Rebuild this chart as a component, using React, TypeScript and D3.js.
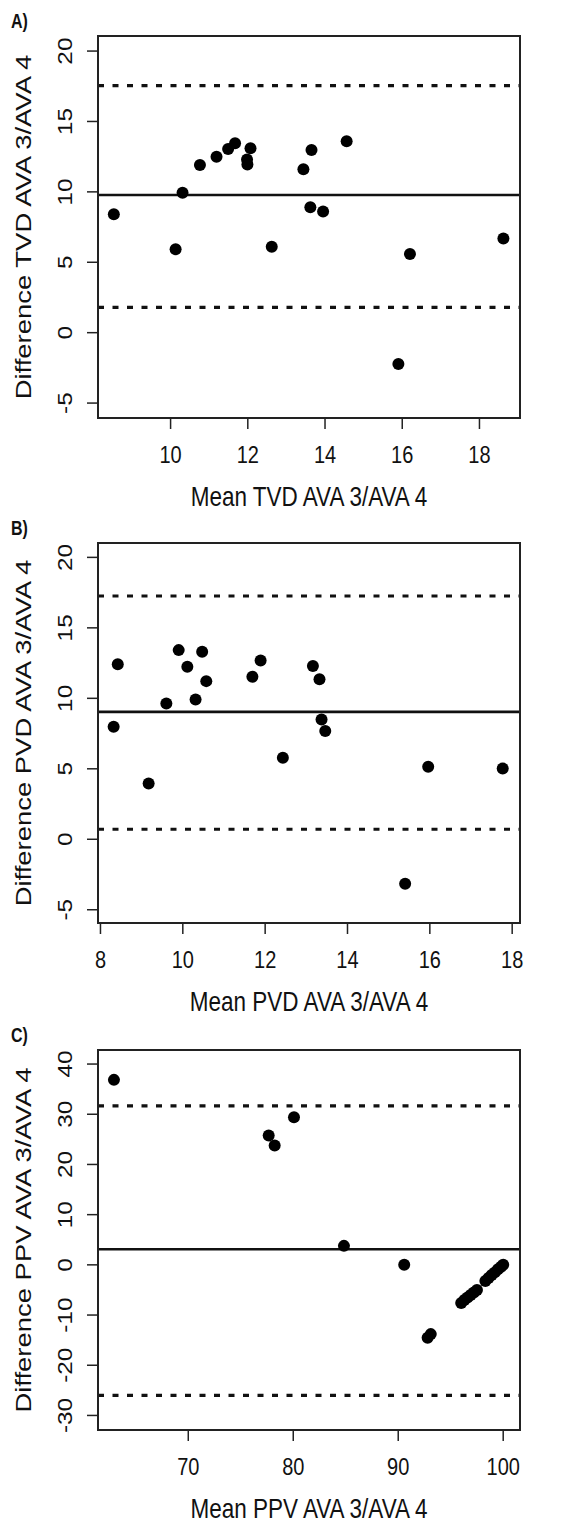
import React from 'react'
import * as d3 from 'd3'

// Bland-Altman panels: mean (x) vs difference (y)
const tvdMean = [8.53, 10.13, 10.31, 10.76, 11.19, 11.49, 11.67, 12.07, 11.98, 11.99, 12.62, 13.44, 13.65, 13.62, 13.95, 14.56, 16.2, 18.62, 15.9]
const tvdDiff = [8.41, 5.92, 9.94, 11.91, 12.5, 13.05, 13.45, 13.1, 12.3, 11.95, 6.11, 11.6, 12.98, 8.9, 8.6, 13.59, 5.59, 6.68, -2.22]
const tvdLines = { mean: 9.78, upper: 17.54, lower: 1.8 }

const pvdMean = [8.32, 8.42, 9.6, 9.9, 10.11, 10.31, 10.47, 10.57, 11.69, 11.89, 13.16, 13.32, 13.37, 13.46, 12.43, 9.17, 15.96, 17.77, 15.4]
const pvdDiff = [7.98, 12.41, 9.64, 13.42, 12.24, 9.92, 13.3, 11.22, 11.53, 12.69, 12.29, 11.36, 8.5, 7.69, 5.78, 3.96, 5.14, 5.02, -3.15]
const pvdLines = { mean: 9.04, upper: 17.26, lower: 0.71 }

const ppvMean = [62.92, 77.66, 78.23, 80.07, 84.83, 90.57, 92.8, 93.1, 96.0, 96.3, 96.6, 96.9, 97.2, 97.5, 98.3, 98.6, 98.9, 99.2, 99.5, 99.8, 100.0]
const ppvDiff = [36.85, 25.76, 23.77, 29.42, 3.78, 0.0, -14.5, -13.8, -7.6, -7.0, -6.5, -6.0, -5.5, -5.0, -3.2, -2.6, -2.0, -1.5, -0.9, -0.4, 0.0]
const ppvLines = { mean: 3.1, upper: 31.67, lower: -26.0 }

const tvdXTicks = [10, 12, 14, 16, 18]
const tvdYTicks = [-5, 0, 5, 10, 15, 20]
const pvdXTicks = [8, 10, 12, 14, 16, 18]
const pvdYTicks = [-5, 0, 5, 10, 15, 20]
const ppvXTicks = [70, 80, 90, 100]
const ppvYTicks = [-30, -20, -10, 0, 10, 20, 30, 40]

const panels = [
  { tag: 'A)', xs: tvdMean, ys: tvdDiff, lines: tvdLines, xTicks: tvdXTicks, yTicks: tvdYTicks,
    xDomain: [8.12, 19.05], yDomain: [-6.06, 21.07], top: 36, bottom: 418,
    xLabel: 'Mean TVD AVA 3/AVA 4', yLabel: 'Difference TVD AVA 3/AVA 4' },
  { tag: 'B)', xs: pvdMean, ys: pvdDiff, lines: pvdLines, xTicks: pvdXTicks, yTicks: pvdYTicks,
    xDomain: [7.94, 18.19], yDomain: [-5.94, 21.02], top: 543, bottom: 923,
    xLabel: 'Mean PVD AVA 3/AVA 4', yLabel: 'Difference PVD AVA 3/AVA 4' },
  { tag: 'C)', xs: ppvMean, ys: ppvDiff, lines: ppvLines, xTicks: ppvXTicks, yTicks: ppvYTicks,
    xDomain: [61.4, 101.6], yDomain: [-32.9, 42.8], top: 1050, bottom: 1430,
    xLabel: 'Mean PPV AVA 3/AVA 4', yLabel: 'Difference PPV AVA 3/AVA 4' },
]

const left = 98
const right = 520
const font = '"Liberation Sans", Arial, sans-serif'
const ink = '#111'
// the source figure was stretched vertically, text included
const stretch = 1.22

function Panel({ p }) {
  const x = d3.scaleLinear().domain(p.xDomain).range([left, right])
  const y = d3.scaleLinear().domain(p.yDomain).range([p.bottom, p.top])
  const midY = (p.top + p.bottom) / 2
  return (
    <g>
      <text transform={`translate(11,${p.top - 8}) scale(1,${stretch})`} fontFamily={font}
        fontWeight="bold" fontSize={16} fill={ink}>{p.tag}</text>

      {/* limits of agreement + mean difference */}
      <line x1={left} x2={right} y1={y(p.lines.upper)} y2={y(p.lines.upper)}
        stroke={ink} strokeWidth={3.2} strokeDasharray="6 8.5" />
      <line x1={left} x2={right} y1={y(p.lines.lower)} y2={y(p.lines.lower)}
        stroke={ink} strokeWidth={3.2} strokeDasharray="6 8.5" />
      <line x1={left} x2={right} y1={y(p.lines.mean)} y2={y(p.lines.mean)}
        stroke={ink} strokeWidth={2.6} />

      {p.xs.map((v, i) => (
        <circle key={i} cx={x(v)} cy={y(p.ys[i])} r={6} fill="#000" />
      ))}

      <rect x={left} y={p.top} width={right - left} height={p.bottom - p.top}
        fill="none" stroke="#222" strokeWidth={2} />

      {p.xTicks.map(t => (
        <g key={'x' + t}>
          <line x1={x(t)} x2={x(t)} y1={p.bottom} y2={p.bottom + 11} stroke="#222" strokeWidth={1.5} />
          <text transform={`translate(${x(t)},${p.bottom + 45}) scale(1,${stretch})`} textAnchor="middle"
            fontFamily={font} fontSize={20} fill={ink}>{t}</text>
        </g>
      ))}
      {p.yTicks.map(t => (
        <g key={'y' + t}>
          <line x1={left - 11} x2={left} y1={y(t)} y2={y(t)} stroke="#222" strokeWidth={1.5} />
          <text transform={`translate(72,${y(t)}) scale(1,${stretch}) rotate(-90)`} textAnchor="middle"
            fontFamily={font} fontSize={20} fill={ink}>{t}</text>
        </g>
      ))}

      <text transform={`translate(${(left + right) / 2},${p.bottom + 88}) scale(1,${stretch})`}
        textAnchor="middle" fontFamily={font} fontSize={22.5} fill={ink}>{p.xLabel}</text>
      <text transform={`translate(31,${midY}) scale(1,${stretch}) rotate(-90)`} textAnchor="middle"
        fontFamily={font} fontSize={22.5} fill={ink}>{p.yLabel}</text>
    </g>
  )
}

export default function App() {
  return (
    <svg width={577} height={1529} viewBox="0 0 577 1529"
      style={{ position: 'absolute', left: 0, top: 0, background: '#fff' }}>
      <rect width={577} height={1529} fill="#fff" />
      {panels.map(p => <Panel key={p.tag} p={p} />)}
    </svg>
  )
}
